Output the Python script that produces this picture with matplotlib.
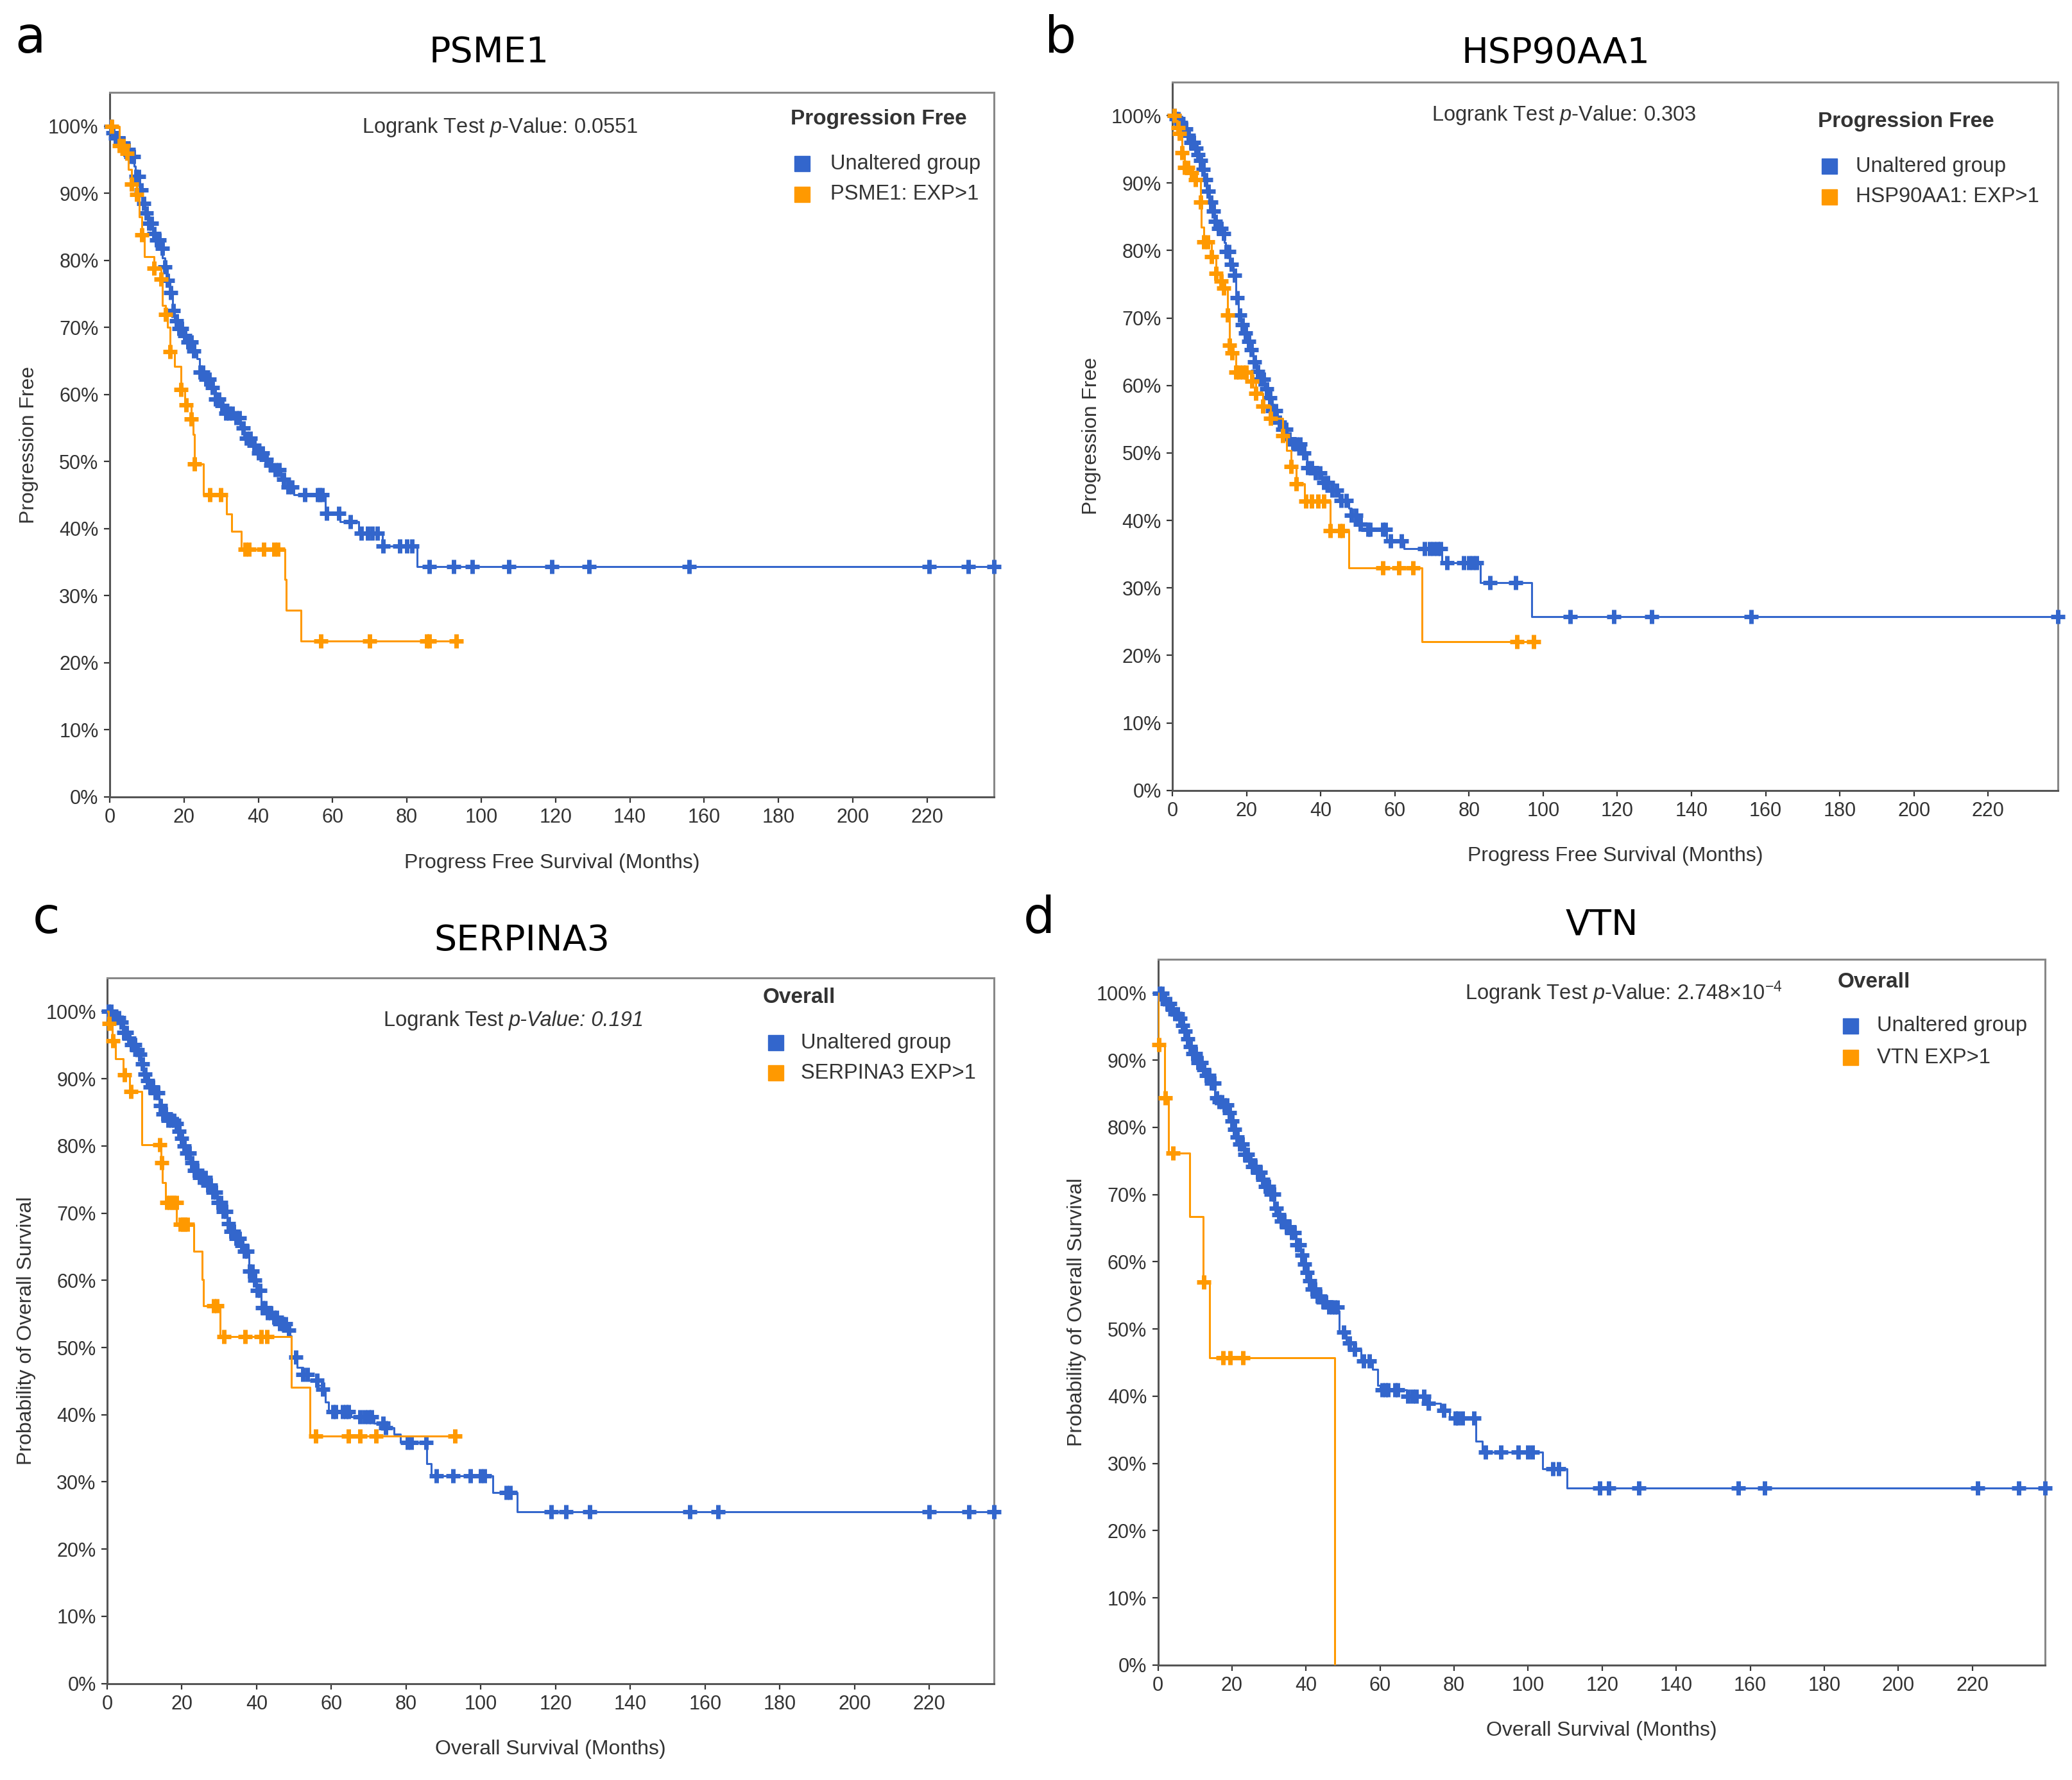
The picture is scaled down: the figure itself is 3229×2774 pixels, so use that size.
import matplotlib
matplotlib.use("Agg")
import matplotlib.pyplot as plt
import numpy as np

plt.rcParams["font.family"] = ["Liberation Sans", "DejaVu Sans"]
plt.rcParams["mathtext.fontset"] = "custom"
plt.rcParams["mathtext.rm"] = "Liberation Sans"
plt.rcParams["mathtext.it"] = "Liberation Sans:italic"

BLUE = "#3366cc"
ORANGE = "#ff9900"
TXT = "#333333"

### panel a : PSME1 (progression free)
a_blue_t = [0, 0.5, 1.3, 2.5, 4, 5.5, 6.5, 7, 8, 8.6, 9.5, 10.5, 11.6, 12.5, 13.5, 14.2, 14.9, 15.5,
            16.2, 16.9, 17.5, 18.2, 19.5, 21, 22.5, 23.5, 24.2, 25.5, 27, 28.5, 29.5, 31, 33.5, 35,
            36.2, 38, 39.5, 41.5, 42.8, 44, 46.1, 48, 49.5, 58.1, 62, 67, 73.4, 82.7]
a_blue_s = [100, 99, 98.2, 97.5, 96.5, 95.5, 94, 92.5, 90.5, 88.5, 87, 85.5, 84, 83, 81.8, 80.3, 79, 77,
            75.2, 72.5, 71, 69.8, 68.8, 67.8, 66.5, 65.3, 63.3, 62.3, 61, 59.3, 58.3, 57.2, 56.5, 55,
            53.5, 52.4, 51.3, 50.3, 49.4, 48.8, 47.3, 46.2, 45, 42.3, 41, 39.3, 37.4, 34.3]
a_blue_end = 238
a_blue_cens = [0.3, 0.9, 1.5, 2.2, 2.9, 3.6, 4.2, 5.0, 5.7, 6.4, 7.1, 7.8, 8.4, 9.1, 9.9, 10.6, 11.2,
               12.0, 12.7, 13.4, 14.1, 14.9, 15.6, 16.4, 17.1, 17.9, 18.7, 19.4, 20.3, 21.1, 21.9, 22.7,
               24.3, 25.1, 26.0, 26.8, 27.7, 28.6, 29.4, 30.3, 31.2, 32.1, 33.0, 34.0, 34.9, 35.9, 36.8,
               37.9, 38.9, 40.0, 41.1, 42.2, 43.3, 44.5, 45.6, 46.8, 48.0, 49.1, 52.6, 55.9, 56.5, 57.2,
               58.4, 61.7, 64.7, 67.7, 69.4, 70.7, 72.0, 73.6, 78.0, 80.0, 81.3, 86.0, 92.6, 97.6, 107.5,
               119.0, 129.0, 156.0, 220.6, 231.0, 238.0]
a_orange_t = [0, 2.6, 4.3, 5, 5.9, 7.3, 7.9, 8.6, 9.3, 11.9, 13.9, 14.2, 15, 15.5, 16.2, 17.5, 19.2,
              20.2, 21.9, 22.5, 22.8, 25.2, 31.5, 32.9, 35.5, 47.1, 47.5, 51.5]
a_orange_s = [100, 97.1, 95.9, 93.5, 91.3, 89.8, 86.5, 83.8, 80.5, 78.8, 77.2, 73.3, 71.9, 70, 66.4,
              64.2, 60.7, 58.4, 56.3, 54, 49.6, 45, 42.2, 39.6, 36.9, 32.4, 27.8, 23.2]
a_orange_end = 93.3
a_orange_cens = [0.5, 2.6, 3.7, 4.6, 5.9, 7.3, 8.6, 11.9, 13.9, 15, 16.2, 19.2, 20.5, 21.9, 22.8,
                 26.9, 29.9, 36.5, 37.5, 41.5, 44.2, 45.2, 56.8, 70, 85.3, 86, 93.3]

### panel b : HSP90AA1 (progression free)
b_blue_t = [0, 1, 1.8, 2.8, 3.8, 4.8, 5.8, 6.5, 7.2, 7.8, 8.5, 9.2, 9.8, 10.5, 11.2, 12.3, 13.4, 13.9,
            14.4, 15.4, 16.4, 17.1, 17.8, 18.5, 19.1, 20.1, 21.1, 21.8, 22.8, 23.7, 24.7, 25.7, 27,
            28.3, 29.5, 31, 32.3, 35, 36.3, 38, 40.3, 42.9, 44.9, 47.5, 48.2, 50.2, 51, 57.8, 62.4,
            72.7, 83, 96.9]
b_blue_s = [100, 99.5, 99, 98, 97.1, 96, 95.2, 94.2, 93.4, 92, 90.5, 88.8, 87.2, 85.8, 84.3, 83.3,
            82.5, 81.2, 79.9, 78, 76.3, 73, 70.4, 69, 67.8, 66.5, 65.3, 63.5, 62.1, 60.9, 59.5, 58.2,
            56.3, 54.6, 53.5, 52.1, 51.3, 50, 47.8, 47, 45.6, 44.5, 43, 41.8, 40.8, 39.4, 38.7, 37,
            35.8, 33.7, 30.8, 25.7]
b_blue_end = 238.9
b_blue_cens = [0.4, 1.0, 1.6, 2.3, 2.9, 3.6, 4.3, 4.9, 5.6, 6.3, 6.9, 7.6, 8.3, 8.9, 9.6, 10.3, 11.0,
               11.6, 12.4, 13.1, 13.8, 14.5, 15.2, 15.9, 16.7, 17.4, 18.2, 18.9, 19.7, 20.5, 21.3, 22.1,
               22.9, 23.7, 24.5, 25.4, 26.2, 27.0, 27.9, 28.8, 29.7, 30.6, 31.5, 32.5, 33.4, 34.4, 35.4,
               36.4, 37.5, 38.6, 39.7, 40.8, 41.9, 43.1, 44.3, 45.5, 46.8, 48.3, 49.5, 50.7, 52.8, 53.2,
               56.8, 57.5, 58.8, 61.7, 68.0, 69.4, 70.4, 71.4, 72.4, 74.0, 78.6, 80.0, 81.0, 82.0, 85.6,
               92.6, 107.3, 119.0, 129.3, 156.1, 238.9]
b_orange_t = [0, 0.9, 1.3, 1.8, 2.5, 3.2, 5.2, 6.2, 7.5, 7.8, 8.5, 10.5, 11.8, 13.1, 13.8, 14.8, 15.4,
              16, 17.1, 21.5, 22.5, 24.4, 26.4, 29.7, 30.7, 32, 33.3, 35.6, 42.6, 47.5, 67.3]
b_orange_s = [100, 99.3, 98.2, 97.4, 94.5, 92.3, 91.6, 90.5, 87.2, 83.5, 81.3, 79.1, 76.6, 75.5, 74.4,
              70.4, 66, 64.8, 62, 60.6, 58.8, 56.9, 55.1, 52.6, 50.4, 48, 45.4, 42.9, 38.5, 33, 22]
b_orange_end = 97.5
b_orange_cens = [0.5, 1.5, 1.8, 2.5, 3.2, 4.2, 5.2, 6.2, 7.5, 8.5, 9.5, 10.5, 11.8, 13.1, 13.8, 14.8,
                 15.4, 16, 17.1, 18, 19, 19.8, 21.5, 22.5, 24.4, 26.4, 29.7, 32, 33.3, 36, 37.6, 39.3,
                 40.9, 42.6, 45.2, 45.9, 56.8, 61.1, 64.8, 92.9, 97.5]

### panel c : SERPINA3 (overall)
c_blue_t = [0, 1.5, 3.8, 4.5, 5.5, 6.4, 7.4, 8.4, 9, 9.7, 10.4, 11.1, 12.4, 13.7, 14.3, 15, 16.3, 18.3,
            19, 19.6, 20.3, 20.9, 22.2, 23.2, 24.2, 26.8, 28.2, 29.5, 30.8, 32.1, 33.1, 34.1, 35.4,
            36.7, 38, 39, 40, 41.3, 42.6, 44, 46, 47.9, 48.9, 49.3, 50.8, 52.3, 53.8, 56.5, 57.7, 58.4,
            59.2, 65.3, 71.5, 74.5, 76.8, 78.4, 85.5, 86.8, 103.2, 109.8]
c_blue_s = [100, 99.1, 98.4, 96.9, 96, 95.1, 94.3, 93.6, 92.2, 90.7, 89.7, 88.8, 87.9, 87, 86, 84.8,
            83.8, 83.3, 82.2, 81.1, 80, 78.9, 77.5, 76.4, 75.3, 74.2, 73.1, 71.6, 70.2, 68.4, 67.3,
            66.2, 65.2, 64.3, 61.4, 60, 58.5, 55.9, 55.2, 54.5, 53.5, 52.6, 51.7, 48.6, 47, 46, 45.1,
            44.4, 43.8, 41.9, 40.5, 39.7, 38.7, 38.1, 37.1, 35.9, 32.7, 30.9, 28.4, 25.6]
c_blue_end = 237.4
c_blue_cens = [0.4, 1.0, 1.7, 2.4, 3.1, 3.8, 4.5, 5.2, 5.9, 6.6, 7.3, 8.0, 8.7, 9.4, 10.1, 10.8, 11.5,
               12.2, 12.9, 13.6, 14.3, 15.0, 15.7, 16.4, 17.1, 17.8, 18.5, 19.2, 19.9, 20.6, 21.3, 22.0,
               22.7, 23.4, 24.1, 24.8, 25.5, 26.2, 26.9, 27.6, 28.3, 29.0, 29.7, 30.4, 31.1, 31.8, 32.5,
               33.2, 33.9, 34.6, 35.3, 36.0, 36.7, 37.4, 38.1, 38.8, 39.5, 40.2, 40.9, 41.6, 42.3, 43.0,
               43.8, 44.6, 45.4, 46.2, 47.0, 47.8, 48.6, 50.5, 52.3, 53.5, 56.1, 57.7, 60.4, 61.1, 63.0,
               63.8, 64.6, 67.7, 68.8, 69.9, 70.7, 73.8, 74.5, 80.3, 81.4, 85.3, 88.1, 92.6, 97.2, 99.9,
               101.0, 106.8, 107.9, 118.9, 122.8, 129.1, 156.0, 163.5, 220.0, 230.7, 237.4]
c_orange_t = [0, 0.3, 1.4, 2.2, 4.3, 6, 9.2, 14.4, 14.7, 15.7, 18.6, 23.2, 25.4, 25.7, 30.3, 49.3, 54.3]
c_orange_s = [100, 98.2, 95.6, 93, 90.6, 88.1, 80.2, 77.5, 74.5, 71.6, 68.3, 64.3, 60.1, 56.2, 51.6,
              44.1, 36.8]
c_orange_end = 93
c_orange_cens = [0.6, 1.6, 4.7, 6.4, 14.1, 14.6, 16.0, 16.6, 17.3, 17.9, 18.5, 19.6, 20.2, 20.8, 21.4,
                 28.5, 29.3, 31.2, 37.0, 41.2, 42.7, 55.8, 64.6, 67.6, 71.9, 93.0]

### panel d : VTN (overall)
d_blue_t = [0, 1.5, 2.5, 3.5, 4.5, 5.4, 6.1, 6.8, 8.1, 8.8, 9.4, 10.7, 11.7, 12.7, 14.4, 15.4, 16.4,
            17.4, 18.7, 19.5, 20.4, 21.2, 22, 23.4, 24.4, 25.3, 26.7, 28, 29, 30, 31.3, 32.3, 33.3,
            34.6, 36, 37.3, 38.6, 39.3, 40, 40.6, 41.3, 42.6, 43.9, 46, 48.6, 49, 50.9, 53.2, 54.8,
            57.9, 59.4, 60, 67.1, 72.6, 76.4, 78.8, 85.9, 87.6, 103.9, 110.5]
d_blue_s = [100, 99.1, 98.4, 97.6, 96.9, 96.2, 95.2, 94.3, 93.2, 92, 91, 89.6, 88.6, 87.7, 86.6, 84.4,
            83.8, 83.3, 82.2, 81, 79.7, 78.6, 77.5, 76, 75.1, 74.2, 73.3, 72.3, 71.2, 70.1, 68, 67,
            66.1, 65.2, 64.3, 62.5, 61, 59.7, 58.4, 57.2, 55.9, 54.9, 54, 53.3, 52.7, 49.5, 47.9, 47,
            45.2, 44, 41.6, 40.9, 40, 38.9, 37.9, 36.7, 33.3, 31.7, 29.2, 26.3]
d_blue_end = 239.6
d_blue_cens = [0.4, 1.1, 1.8, 2.5, 3.2, 3.9, 4.6, 5.3, 6.0, 6.7, 7.4, 8.1, 8.8, 9.5, 10.2, 10.9, 11.6,
               12.3, 13.0, 13.7, 14.4, 15.1, 15.8, 16.5, 17.2, 17.9, 18.6, 19.3, 20.0, 20.7, 21.4, 22.1,
               22.8, 23.5, 24.2, 24.9, 25.6, 26.3, 27.0, 27.7, 28.4, 29.1, 29.8, 30.5, 31.2, 31.9, 32.6,
               33.3, 34.0, 34.7, 35.4, 36.1, 36.8, 37.5, 38.2, 38.9, 39.6, 40.3, 41.0, 41.7, 42.4, 43.1,
               43.8, 44.6, 45.4, 46.2, 47.0, 47.8, 48.5, 50.1, 51.7, 53.2, 55.5, 57.1, 60.6, 61.4, 62.1,
               64.1, 64.8, 67.5, 68.7, 69.8, 71.8, 73.0, 77.2, 80.3, 81.1, 82.2, 85.4, 88.4, 92.7, 97.3,
               100.0, 101.2, 106.6, 108.2, 119.3, 121.8, 130.0, 156.8, 163.9, 221.4, 232.5, 239.6]
d_orange_t = [0, 0.1, 1.8, 2.8, 8.6, 12.2, 14, 47.8]
d_orange_s = [100, 92.3, 84.4, 76.2, 66.7, 57, 45.7, 0]
d_orange_end = 47.8
d_orange_cens = [0.3, 2.0, 4.1, 12.4, 17.6, 19.5, 23.0]


def draw_km(ax, times, surv, end, cens, color, z):
    t = np.array(times + [end])
    s = np.array(surv + [surv[-1]])
    ax.step(t, s, where="post", color=color, lw=2.2, zorder=z)
    idx = np.searchsorted(times, cens, side="right") - 1
    ax.plot(cens, np.array(surv)[idx], ls="none", marker="+", ms=16, mew=5,
            color=color, zorder=z + 0.5, clip_on=False)


def setup(ax, xmax, xlabel, ylabel):
    ax.set_xlim(0, xmax)
    ax.set_ylim(0, 105)
    ax.set_xticks(range(0, 221, 20))
    ax.set_yticks(range(0, 101, 10))
    ax.set_yticklabels([str(v) + "%" for v in range(0, 101, 10)])
    ax.tick_params(direction="out", length=6.5, width=1.6, labelsize=22, colors=TXT, pad=6)
    for sp in ["left", "bottom"]:
        ax.spines[sp].set_color("#555555")
        ax.spines[sp].set_linewidth(2.2)
    for sp in ["top", "right"]:
        ax.spines[sp].set_color("#888888")
        ax.spines[sp].set_linewidth(2.2)
    ax.set_xlabel(xlabel, fontsize=23, color=TXT, labelpad=29)
    ax.set_ylabel(ylabel, fontsize=23, color=TXT, labelpad=11)


def legend(ax, title, labels, xt, yt, xs, xl, ys):
    ax.text(xt, yt, title, transform=ax.transAxes, fontsize=24, fontweight="bold",
            color=TXT, ha="left", va="center")
    for lab, col, y in zip(labels, [BLUE, ORANGE], ys):
        ax.plot([xs], [y], ls="none", marker="s", ms=17, color=col,
                transform=ax.transAxes, clip_on=False)
        ax.text(xl, y, lab, transform=ax.transAxes, fontsize=23.5, color=TXT,
                ha="left", va="center")


fig = plt.figure(figsize=(32.3, 27.74), dpi=100)

ax_a = fig.add_axes([0.0529, 0.5523, 0.4267, 0.3957])
ax_b = fig.add_axes([0.5657, 0.5560, 0.4273, 0.3980])
ax_c = fig.add_axes([0.0517, 0.0542, 0.4280, 0.3964])
ax_d = fig.add_axes([0.5587, 0.0646, 0.4279, 0.3964])

draw_km(ax_a, a_blue_t, a_blue_s, a_blue_end, a_blue_cens, BLUE, 3)
draw_km(ax_a, a_orange_t, a_orange_s, a_orange_end, a_orange_cens, ORANGE, 5)
setup(ax_a, 238, "Progress Free Survival (Months)", "Progression Free")
ax_a.text(0.2855, 0.951, r"Logrank Test $\mathit{p}$-Value: 0.0551", transform=ax_a.transAxes,
          fontsize=23.5, color=TXT, ha="left", va="center")
legend(ax_a, "Progression Free", ["Unaltered group", "PSME1: EXP>1"],
       0.770, 0.9625, 0.783, 0.8146, [0.8987, 0.8555])

draw_km(ax_b, b_blue_t, b_blue_s, b_blue_end, b_blue_cens, BLUE, 3)
draw_km(ax_b, b_orange_t, b_orange_s, b_orange_end, b_orange_cens, ORANGE, 5)
setup(ax_b, 238.9, "Progress Free Survival (Months)", "Progression Free")
ax_b.text(0.2925, 0.953, r"Logrank Test $\mathit{p}$-Value: 0.303", transform=ax_b.transAxes,
          fontsize=23.5, color=TXT, ha="left", va="center")
legend(ax_b, "Progression Free", ["Unaltered group", "HSP90AA1: EXP>1"],
       0.7284, 0.944, 0.742, 0.7716, [0.8806, 0.8377])

draw_km(ax_c, c_blue_t, c_blue_s, c_blue_end, c_blue_cens, BLUE, 3)
draw_km(ax_c, c_orange_t, c_orange_s, c_orange_end, c_orange_cens, ORANGE, 5)
setup(ax_c, 237.4, "Overall Survival (Months)", "Probability of Overall Survival")
t1 = ax_c.text(0.3115, 0.940, "Logrank Test", transform=ax_c.transAxes,
               fontsize=23.5, color=TXT, ha="left", va="center")
ax_c.annotate("p-Value: 0.191", xy=(1, 0), xycoords=t1, xytext=(6.5, 0),
              textcoords="offset points", fontsize=23.5, style="italic", color=TXT,
              ha="left", va="bottom")
legend(ax_c, "Overall", ["Unaltered group", "SERPINA3 EXP>1"],
       0.739, 0.972, 0.754, 0.782, [0.908, 0.865])

draw_km(ax_d, d_blue_t, d_blue_s, d_blue_end, d_blue_cens, BLUE, 3)
draw_km(ax_d, d_orange_t, d_orange_s, d_orange_end, d_orange_cens, ORANGE, 5)
setup(ax_d, 239.6, "Overall Survival (Months)", "Probability of Overall Survival")
ax_d.text(0.3458, 0.953, r"Logrank Test $\mathit{p}$-Value: 2.748×10$^{-4}$",
          transform=ax_d.transAxes, fontsize=23.5, color=TXT, ha="left", va="center")
legend(ax_d, "Overall", ["Unaltered group", "VTN EXP>1"],
       0.766, 0.968, 0.781, 0.811, [0.906, 0.861])

# panel titles and letters
for x, y, s in [(0.236, 0.9651, "PSME1"), (0.7506, 0.9647, "HSP90AA1"),
                (0.2519, 0.4662, "SERPINA3"), (0.773, 0.4751, "VTN")]:
    fig.text(x, y, s, fontsize=40, family="DejaVu Sans", ha="center", va="baseline", color="black")
for x, y, s in [(0.0147, 0.9703, "a"), (0.5115, 0.9703, "b"),
                (0.0223, 0.4759, "c"), (0.5013, 0.4759, "d")]:
    fig.text(x, y, s, fontsize=56, family="DejaVu Sans", ha="center", va="baseline", color="black")

plt.savefig("out.png", dpi=100)
plt.close()
